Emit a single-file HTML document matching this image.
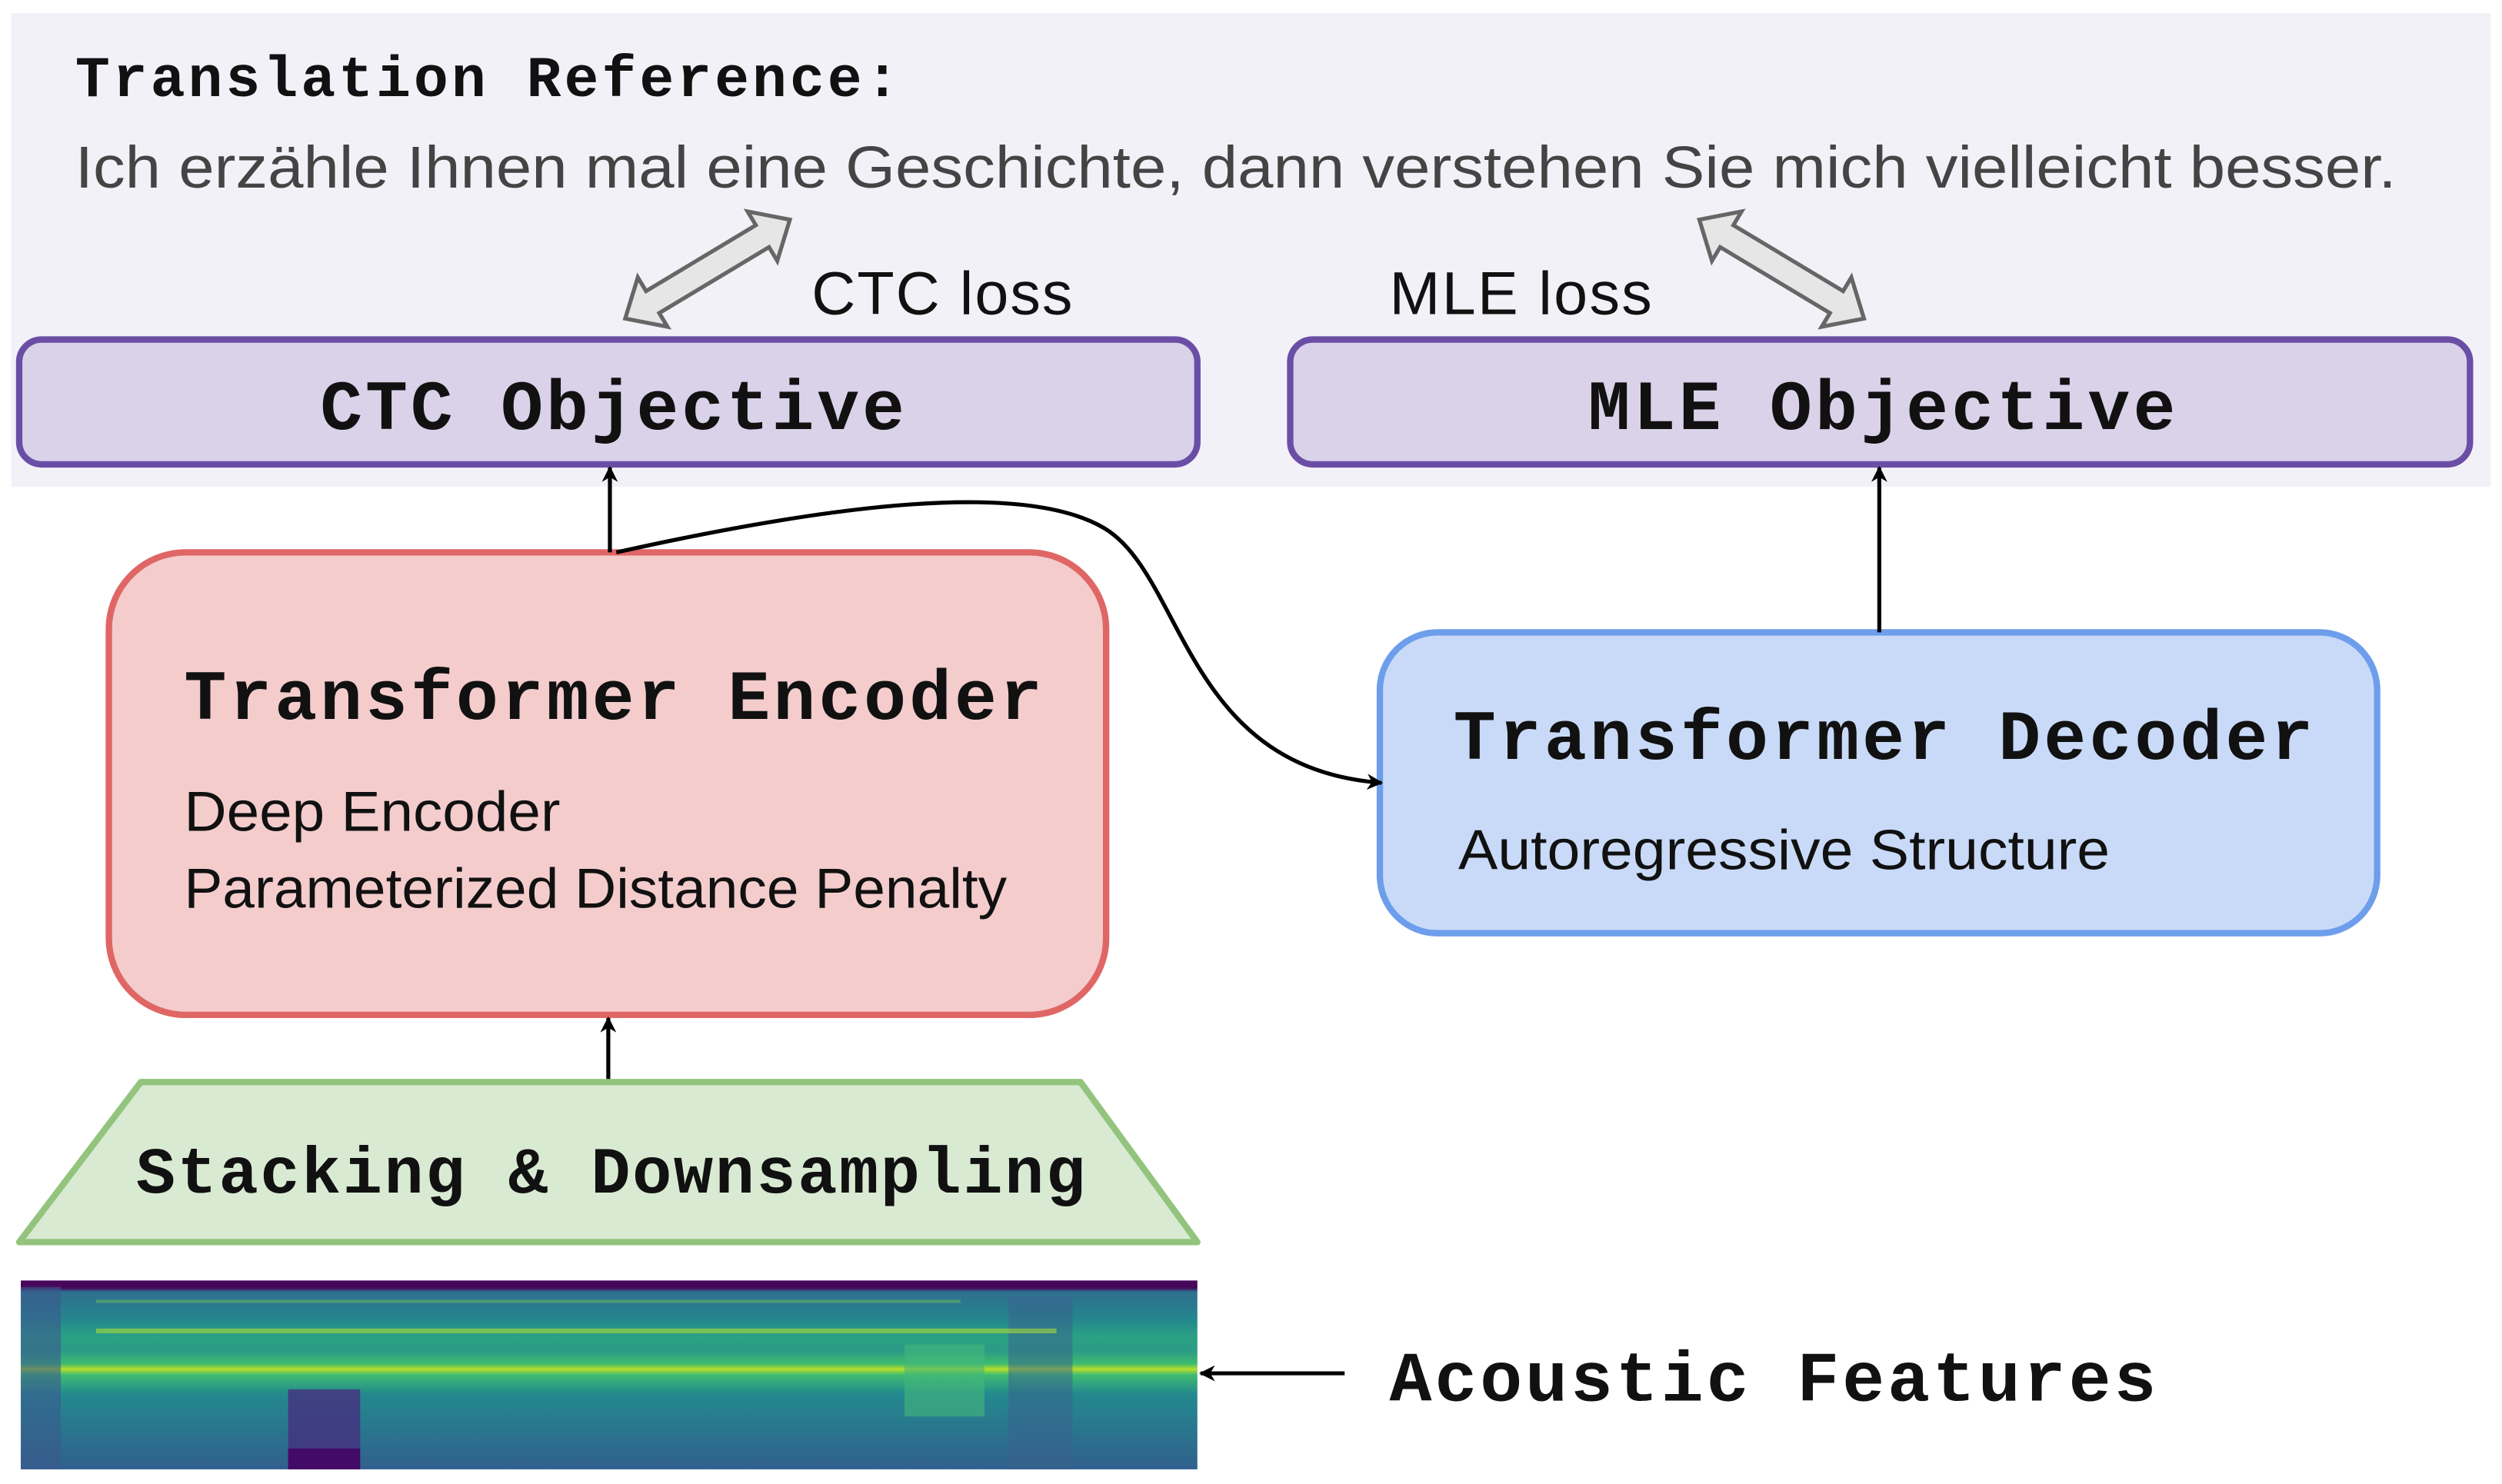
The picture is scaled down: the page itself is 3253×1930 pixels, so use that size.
<!DOCTYPE html>
<html><head><meta charset="utf-8"><style>html,body{margin:0;padding:0;background:#fff}svg{display:block}</style></head>
<body>
<svg width="3253" height="1930" viewBox="0 0 1563 927" xmlns="http://www.w3.org/2000/svg">
<defs>
<linearGradient id="sg" x1="0" y1="0" x2="0" y2="1">
<stop offset="0" stop-color="#46075a"/>
<stop offset="0.04" stop-color="#46075a"/>
<stop offset="0.06" stop-color="#2f6f8e"/>
<stop offset="0.2" stop-color="#25858e"/>
<stop offset="0.3" stop-color="#2aa283"/>
<stop offset="0.37" stop-color="#2c9a86"/>
<stop offset="0.44" stop-color="#3dbb70"/>
<stop offset="0.47" stop-color="#b5de2b"/>
<stop offset="0.5" stop-color="#3fbc70"/>
<stop offset="0.6" stop-color="#23898e"/>
<stop offset="1" stop-color="#31608d"/>
</linearGradient>
<marker id="ah" markerWidth="10" markerHeight="10" refX="9" refY="5" orient="auto" markerUnits="userSpaceOnUse">
<path d="M0,0 L10,5 L0,10 L3,5 z" fill="#000"/>
</marker>
</defs>
<rect x="7" y="8" width="1549" height="296" fill="#f3f1f8"/>
<text x="47" y="60" font-family="Liberation Mono, monospace" font-weight="bold" font-size="36" textLength="515" fill="#111">Translation Reference:</text>
<text x="47" y="117" font-family="Liberation Sans, sans-serif" font-size="37" textLength="1450" lengthAdjust="spacingAndGlyphs" fill="#444">Ich erzähle Ihnen mal eine Geschichte, dann verstehen Sie mich vielleicht besser.</text>
<g fill="#e6e6e6" stroke="#666" stroke-width="2.5" stroke-linejoin="miter">
<path transform="translate(442,168) rotate(-31)" d="M-60,0 L-40,-18 L-40,-8 L40,-8 L40,-18 L60,0 L40,18 L40,8 L-40,8 L-40,18 z"/>
<path transform="translate(1113,168) rotate(31)" d="M-60,0 L-40,-18 L-40,-8 L40,-8 L40,-18 L60,0 L40,18 L40,8 L-40,8 L-40,18 z"/>
</g>
<text x="507" y="196" font-family="Liberation Sans, sans-serif" font-size="38" textLength="163" fill="#111">CTC loss</text>
<text x="868" y="196" font-family="Liberation Sans, sans-serif" font-size="38" textLength="164" fill="#111">MLE loss</text>
<rect x="12" y="212" width="736" height="78" rx="14" fill="#d9d2e9" stroke="#6a4ea6" stroke-width="4"/>
<rect x="806" y="212" width="737" height="78" rx="14" fill="#d9d2e9" stroke="#6a4ea6" stroke-width="4"/>
<text x="200" y="268" font-family="Liberation Mono, monospace" font-weight="bold" font-size="44" textLength="365" fill="#111">CTC Objective</text>
<text x="992" y="268" font-family="Liberation Mono, monospace" font-weight="bold" font-size="44" textLength="367" fill="#111">MLE Objective</text>
<rect x="68" y="345" width="623" height="289" rx="48" fill="#f4cccc" stroke="#e06666" stroke-width="4"/>
<text x="115" y="449" font-family="Liberation Mono, monospace" font-weight="bold" font-size="44" textLength="536" fill="#111">Transformer Encoder</text>
<text x="115" y="519" font-family="Liberation Sans, sans-serif" font-size="35" textLength="235" lengthAdjust="spacingAndGlyphs" fill="#111">Deep Encoder</text>
<text x="115" y="567" font-family="Liberation Sans, sans-serif" font-size="35" textLength="514" lengthAdjust="spacingAndGlyphs" fill="#111">Parameterized Distance Penalty</text>
<rect x="862" y="395" width="623" height="188" rx="36" fill="#c9daf8" stroke="#6d9eeb" stroke-width="4"/>
<text x="908" y="474" font-family="Liberation Mono, monospace" font-weight="bold" font-size="44" textLength="537" fill="#111">Transformer Decoder</text>
<text x="911" y="543" font-family="Liberation Sans, sans-serif" font-size="35" textLength="407" lengthAdjust="spacingAndGlyphs" fill="#111">Autoregressive Structure</text>
<g stroke="#000" stroke-width="2.5" fill="none">
<line x1="381" y1="345" x2="381" y2="292" marker-end="url(#ah)"/>
<line x1="1174" y1="395" x2="1174" y2="292" marker-end="url(#ah)"/>
<line x1="380" y1="676" x2="380" y2="636" marker-end="url(#ah)"/>
<path d="M385,345 C520,315 640,300 690,330 C740,360 740,480 863,489" marker-end="url(#ah)"/>
<line x1="840" y1="858" x2="750" y2="858" marker-end="url(#ah)"/>
</g>
<polygon points="88,676 675,676 748,776 12,776" fill="#d9ead3" stroke="#93c47d" stroke-width="4" stroke-linejoin="round"/>
<text x="85" y="745" font-family="Liberation Mono, monospace" font-weight="bold" font-size="41" textLength="593" fill="#111">Stacking &amp; Downsampling</text>
<rect x="13" y="800" width="735" height="118" fill="url(#sg)"/>
<rect x="13" y="804" width="25" height="114" fill="#3a5a8e" opacity="0.6"/>
<rect x="180" y="868" width="45" height="50" fill="#45307f" opacity="0.8"/>
<rect x="180" y="905" width="45" height="13" fill="#440a68"/>
<rect x="565" y="840" width="50" height="45" fill="#44b87a" opacity="0.6"/>
<rect x="630" y="810" width="40" height="108" fill="#3a5f8e" opacity="0.5"/>
<rect x="60" y="830" width="600" height="3" fill="#a8db3a" opacity="0.6"/>
<rect x="60" y="812" width="540" height="2" fill="#7dd250" opacity="0.4"/>
<text x="868" y="875" font-family="Liberation Mono, monospace" font-weight="bold" font-size="44" textLength="479" fill="#111">Acoustic Features</text>
</svg>
</body></html>
